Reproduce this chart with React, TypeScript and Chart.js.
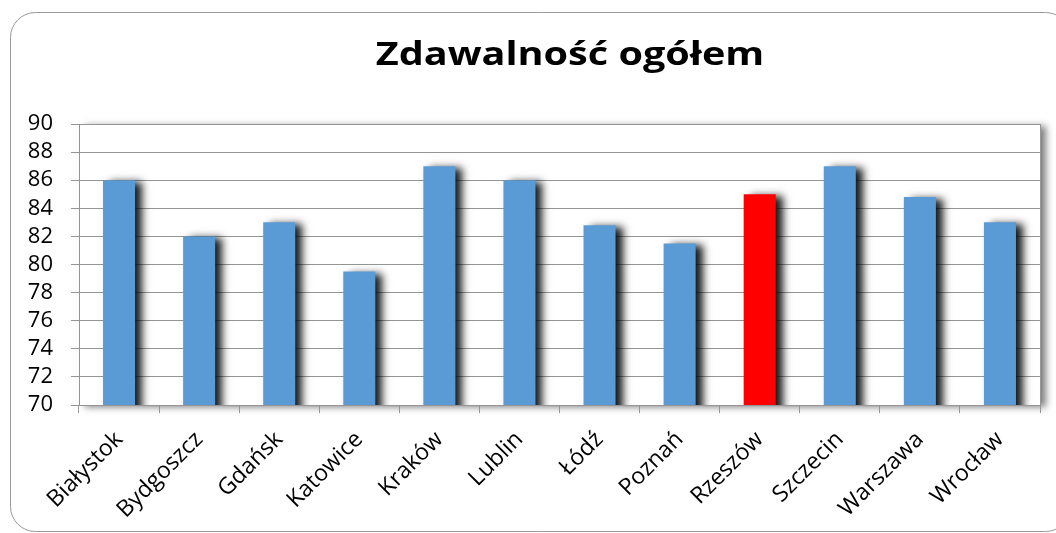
import React, { useEffect, useRef } from "react";
import { Chart, registerables } from "chart.js";

Chart.register(...registerables);

const TITLE = "Zdawalność ogółem";
const CATEGORIES = [
  "Białystok", "Bydgoszcz", "Gdańsk", "Katowice", "Kraków", "Lublin",
  "Łódź", "Poznań", "Rzeszów", "Szczecin", "Warszawa", "Wrocław",
];
const VALUES = [86, 82, 83, 79.5, 87, 86, 82.8, 81.5, 85, 87, 84.8, 83];
const HIGHLIGHT = "Rzeszów";
const Y_MIN = 70;
const Y_MAX = 90;
const Y_STEP = 2;

const BLUE = "#5B9BD5";
const RED = "#FF0000";
const GRID = "#959595";
const FONT = "'Open Sans', sans-serif";

const decorPlugin = {
  id: "decor",
  beforeDraw(chart: any) {
    const { ctx, chartArea: a } = chart;
    ctx.save();
    ctx.fillStyle = "#ffffff";
    ctx.fillRect(0, 0, chart.width, chart.height);
    // outer rounded frame
    ctx.strokeStyle = "#9a9a9a";
    ctx.lineWidth = 1;
    ctx.beginPath();
    (ctx as any).roundRect(10.5, 12.5, 1060, 519, 25);
    ctx.stroke();
    // plot area with shadow
    ctx.shadowColor = "rgba(0,0,0,0.5)";
    ctx.shadowBlur = 7;
    ctx.shadowOffsetX = 6;
    ctx.shadowOffsetY = 2;
    ctx.fillStyle = "#ffffff";
    ctx.fillRect(a.left, a.top, a.right - a.left, a.bottom - a.top);
    ctx.shadowColor = "transparent";
    ctx.strokeStyle = GRID;
    ctx.beginPath();
    ctx.moveTo(a.right + 0.5, a.top);
    ctx.lineTo(a.right + 0.5, a.bottom);
    ctx.stroke();
    // title
    ctx.fillStyle = "#000000";
    ctx.font = "bold 33px " + FONT;
    ctx.textAlign = "center";
    ctx.textBaseline = "alphabetic";
    ctx.translate(570, 65);
    ctx.scale(1.2, 1);
    ctx.fillText(TITLE, 0, 0);
    ctx.restore();
  },
  beforeDatasetsDraw(chart: any) {
    const ctx = chart.ctx;
    ctx.save();
    ctx.shadowColor = "rgba(0,0,0,0.9)";
    ctx.shadowBlur = 8;
    ctx.shadowOffsetX = 7;
    ctx.shadowOffsetY = 2;
  },
  afterDatasetsDraw(chart: any) {
    chart.ctx.restore();
  },
};

export default function App() {
  const ref = useRef<HTMLCanvasElement | null>(null);
  useEffect(() => {
    if (!ref.current) return;
    const chart = new Chart(ref.current, {
      type: "bar",
      data: {
        labels: CATEGORIES,
        datasets: [
          {
            data: VALUES,
            backgroundColor: CATEGORIES.map((c) => (c === HIGHLIGHT ? RED : BLUE)),
            barPercentage: 0.4,
            categoryPercentage: 1,
            borderWidth: 0,
          },
        ],
      },
      options: {
        animation: false,
        responsive: false,
        maintainAspectRatio: false,
        layout: { padding: { top: 124, left: 0, right: 16, bottom: 0 } },
        plugins: {
          legend: { display: false },
          tooltip: { enabled: false },
          title: { display: false },
        },
        scales: {
          x: {
            afterFit: (s: any) => {
              s.height = 128;
            },
            grid: {
              offset: true,
              drawOnChartArea: false,
              color: GRID,
              tickLength: 8,
              lineWidth: 1,
            },
            border: { color: GRID, width: 1 },
            ticks: {
              color: "#000000",
              font: { family: FONT, size: 23 },
              minRotation: 45,
              maxRotation: 45,
              padding: 13,
              autoSkip: false,
            },
          },
          y: {
            min: Y_MIN,
            max: Y_MAX,
            afterFit: (s: any) => {
              s.width = 79;
            },
            grid: { color: GRID, tickLength: 8, lineWidth: 1 },
            border: { color: GRID, width: 1 },
            ticks: {
              stepSize: Y_STEP,
              autoSkip: false,
              color: "#000000",
              font: { family: FONT, size: 22 },
              padding: 18,
            },
          },
        },
      },
      plugins: [decorPlugin],
    });
    return () => chart.destroy();
  }, []);
  return (
    <div style={{ position: "fixed", left: 0, top: 0, width: 1056, height: 533 }}>
      <canvas ref={ref} width={1056} height={533} style={{ display: "block" }} />
    </div>
  );
}
